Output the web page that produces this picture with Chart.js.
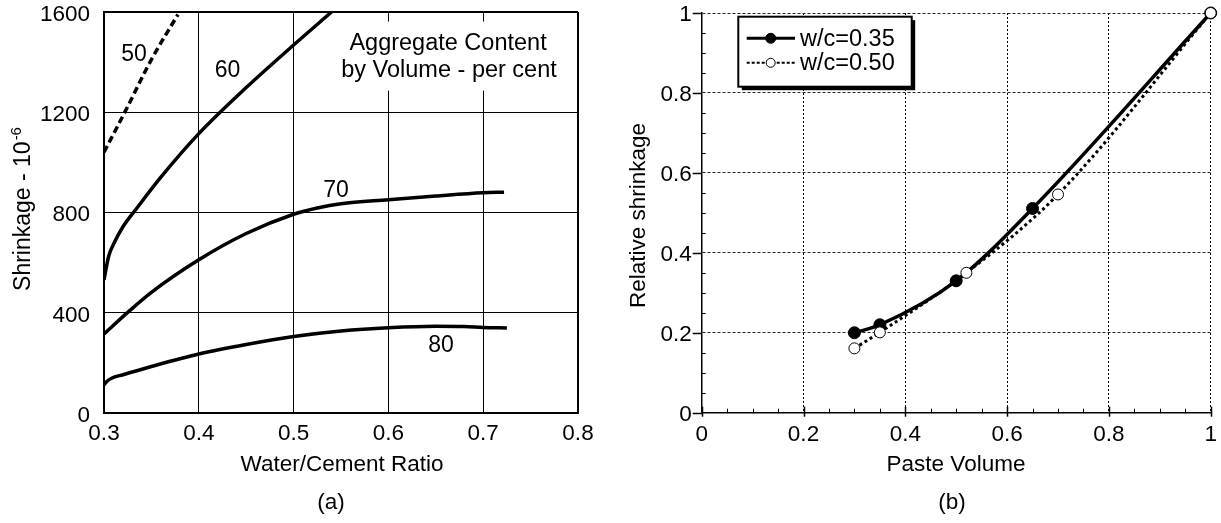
<!DOCTYPE html>
<html>
<head>
<meta charset="utf-8">
<title>Shrinkage of concrete</title>
<script src="https://cdn.jsdelivr.net/npm/chart.js@4.4.0/dist/chart.umd.min.js"></script>
<style>
  html, body { margin: 0; padding: 0; background: #fff; }
  #wrap { position: relative; width: 1221px; height: 523px; overflow: hidden; background: #fff; }
  canvas { position: absolute; top: 0; }
  #chartA { left: 0; }
  #chartB { left: 600px; }
</style>
</head>
<body>
<div id="wrap">
  <canvas id="chartA" width="600" height="523"></canvas>
  <canvas id="chartB" width="621" height="523"></canvas>
</div>
<script>
// ---------- (a) shrinkage vs water/cement ratio, one curve per aggregate content ----------
const aggContents = ['50', '60', '70', '80'];

const wc50 = [0.300, 0.322, 0.350, 0.378];
const shr50 = [1040, 1200, 1410, 1590];

const wc60 = [0.300, 0.305, 0.310, 0.320, 0.335, 0.360, 0.400, 0.450, 0.500, 0.540];
const shr60 = [530, 625, 672, 742, 818, 940, 1114, 1298, 1468, 1600];

const wc70 = [0.300, 0.325, 0.350, 0.400, 0.450, 0.500, 0.525, 0.550, 0.600, 0.650, 0.700, 0.722];
const shr70 = [314, 400, 480, 610, 715, 792, 817, 834, 850, 865, 878, 880];

const wc80 = [0.300, 0.303, 0.308, 0.320, 0.350, 0.400, 0.450, 0.500, 0.550, 0.600, 0.650, 0.680, 0.700, 0.725];
const shr80 = [110, 124, 137, 151, 184, 234, 272, 304, 326, 339, 345, 344, 340, 338];

const xTicksA = [0.3, 0.4, 0.5, 0.6, 0.7, 0.8];
const xLabelsA = ['0.3', '0.4', '0.5', '0.6', '0.7', '0.8'];
const yTicksA = [0, 400, 800, 1200, 1600];
const yLabelsA = ['0', '400', '800', '1200', '1600'];

// ---------- (b) relative shrinkage vs paste volume ----------
const seriesNamesB = ['w/c=0.35', 'w/c=0.50'];
const paste035 = [0.30, 0.35, 0.50, 0.65, 1.00];
const rel035 = [0.200, 0.220, 0.330, 0.511, 1.000];
const paste050 = [0.30, 0.35, 0.52, 0.70, 1.00];
const rel050 = [0.161, 0.201, 0.350, 0.546, 1.000];

const xTicksB = [0, 0.2, 0.4, 0.6, 0.8, 1];
const xLabelsB = ['0', '0.2', '0.4', '0.6', '0.8', '1'];
const yTicksB = [0, 0.2, 0.4, 0.6, 0.8, 1];
const yLabelsB = ['0', '0.2', '0.4', '0.6', '0.8', '1'];
const minorStepB = 0.05;

// ---------- shared styling ----------
const FONT = "'Liberation Sans', Arial, Helvetica, sans-serif";
Chart.defaults.font.family = FONT;
Chart.defaults.color = '#000';
const TICK_FONT = { size: 22.5, lineHeight: 1 };
const CLEAR = 'rgba(0,0,0,0)';

const toPoints = (xs, ys) => xs.map((x, i) => ({ x, y: ys[i] }));
const setTicks = (vals) => (scale) => { scale.ticks = vals.map(v => ({ value: v })); };

// where the curve labels of (a) sit, in data units
const curveLabelAt = [
  { x: 0.3316, y: 1430 },
  { x: 0.4303, y: 1366 },
  { x: 0.5447, y: 888 },
  { x: 0.6555, y: 268 }
];

function curve(label, xs, ys, dash) {
  return {
    label,
    data: toPoints(xs, ys),
    borderColor: '#000',
    borderWidth: 3.5,
    borderDash: dash || [],
    pointRadius: 0,
    pointHoverRadius: 0,
    cubicInterpolationMode: 'monotone',
    fill: false
  };
}

// key text, curve numbers and axis titles of (a)
const annotateA = {
  id: 'annotateA',
  beforeDatasetsDraw(chart) {
    const { ctx, scales: { x, y } } = chart;
    ctx.save();
    const x0 = x.getPixelForValue(0.547), x1 = x.getPixelForValue(0.781);
    const y0 = y.getPixelForValue(1562), y1 = y.getPixelForValue(1286);
    ctx.fillStyle = '#fff';
    ctx.fillRect(x0, y0, x1 - x0, y1 - y0);
    ctx.fillStyle = '#000';
    ctx.font = '23.5px ' + FONT;
    ctx.textAlign = 'center';
    ctx.textBaseline = 'alphabetic';
    const cx = x.getPixelForValue(0.6629);
    ctx.fillText('Aggregate Content', cx, y.getPixelForValue(1450));
    ctx.fillText('by Volume - per cent', cx + 1, y.getPixelForValue(1342));
    ctx.restore();
  },
  afterDatasetsDraw(chart) {
    const { ctx, scales: { x, y } } = chart;
    ctx.save();
    ctx.fillStyle = '#000';
    ctx.font = '23px ' + FONT;
    ctx.textAlign = 'center';
    ctx.textBaseline = 'middle';
    aggContents.forEach((t, i) => {
      ctx.fillText(t, x.getPixelForValue(curveLabelAt[i].x), y.getPixelForValue(curveLabelAt[i].y));
    });
    ctx.restore();
  },
  afterDraw(chart) {
    const { ctx } = chart;
    ctx.save();
    ctx.fillStyle = '#000';
    ctx.textAlign = 'center';
    ctx.textBaseline = 'middle';
    ctx.font = '22.5px ' + FONT;
    ctx.fillText('Water/Cement Ratio', 342, 465);
    ctx.fillText('(a)', 331, 503);
    // rotated y title with superscript exponent
    const main = 'Shrinkage - 10', sup = '-6';
    ctx.font = '23px ' + FONT;
    const w1 = ctx.measureText(main).width;
    ctx.font = '15px ' + FONT;
    const w2 = ctx.measureText(sup).width;
    ctx.translate(24, 209 + (w1 + w2 + 1) / 2);
    ctx.rotate(-Math.PI / 2);
    ctx.textAlign = 'left';
    ctx.font = '23px ' + FONT;
    ctx.fillText(main, 0, 0);
    ctx.font = '15px ' + FONT;
    ctx.fillText(sup, w1 + 1, -7);
    ctx.restore();
  }
};

new Chart(document.getElementById('chartA'), {
  type: 'line',
  data: {
    datasets: [
      curve(aggContents[0], wc50, shr50, [7, 4]),
      curve(aggContents[1], wc60, shr60),
      curve(aggContents[2], wc70, shr70),
      curve(aggContents[3], wc80, shr80)
    ]
  },
  options: {
    responsive: false,
    animation: false,
    devicePixelRatio: 1,
    events: [],
    layout: { autoPadding: false, padding: { left: 0, top: 12, right: 22, bottom: 0 } },
    plugins: { legend: { display: false }, tooltip: { enabled: false } },
    scales: {
      x: {
        type: 'linear', min: 0.3, max: 0.8,
        afterBuildTicks: setTicks(xTicksA),
        afterFit: (s) => { s.height = 110.5; },
        grid: {
          color: '#000',
          lineWidth: (c) => (c.tick && c.tick.value === 0.8 ? 2 : 1),
          drawTicks: true, tickLength: 10.5, tickColor: CLEAR
        },
        border: { display: true, color: '#000', width: 2 },
        ticks: {
          padding: 0, font: TICK_FONT, color: '#000', maxRotation: 0, autoSkip: false,
          callback: (v, i) => xLabelsA[i]
        }
      },
      y: {
        type: 'linear', min: 0, max: 1600,
        afterBuildTicks: setTicks(yTicksA),
        afterFit: (s) => { s.width = 104; },
        grid: {
          color: '#000',
          lineWidth: (c) => (c.tick && c.tick.value === 1600 ? 2 : 1),
          drawTicks: true, tickLength: 14, tickColor: CLEAR
        },
        border: { display: true, color: '#000', width: 2 },
        ticks: {
          padding: 0, labelOffset: 3, font: TICK_FONT, color: '#000', autoSkip: false,
          callback: (v, i) => yLabelsA[i]
        }
      }
    }
  },
  plugins: [annotateA]
});

// ---------- (b) ----------
const decorateB = {
  id: 'decorateB',
  afterDatasetsDraw(chart) {
    const { ctx, chartArea: a, scales: { x, y } } = chart;
    ctx.save();
    ctx.strokeStyle = '#000';
    ctx.lineWidth = 1;
    // minor tick marks pointing into the plot
    for (let v = minorStepB; v < 1 - 1e-9; v += minorStepB) {
      const isMajor = xTicksB.some(t => Math.abs(t - v) < 1e-6);
      if (isMajor) continue;
      const px = Math.round(x.getPixelForValue(v)) + 0.5;
      ctx.beginPath(); ctx.moveTo(px, a.bottom); ctx.lineTo(px, a.bottom - 4); ctx.stroke();
      const py = Math.round(y.getPixelForValue(v)) + 0.5;
      ctx.beginPath(); ctx.moveTo(a.left, py); ctx.lineTo(a.left + 4, py); ctx.stroke();
    }
    // major tick marks pointing out of the plot
    ctx.lineWidth = 1.5;
    xTicksB.forEach(v => {
      const px = Math.round(x.getPixelForValue(v)) + 0.5;
      ctx.beginPath(); ctx.moveTo(px, a.bottom - 6); ctx.lineTo(px, a.bottom + 4); ctx.stroke();
    });
    yTicksB.forEach(v => {
      const py = Math.round(y.getPixelForValue(v)) + 0.5;
      ctx.beginPath(); ctx.moveTo(a.left - 9, py); ctx.lineTo(a.left, py); ctx.stroke();
    });
    ctx.restore();
  },
  afterDraw(chart) {
    const { ctx, chartArea: a } = chart;
    ctx.save();
    // legend panel with drop shadow
    const bx = a.left + 36.6, by = a.top + 3.7, bw = 173.4, bh = 70;
    ctx.fillStyle = '#000';
    ctx.fillRect(bx + 3.5, by + 3.5, bw, bh);
    ctx.fillStyle = '#fff';
    ctx.fillRect(bx, by, bw, bh);
    ctx.lineWidth = 2;
    ctx.strokeStyle = '#000';
    ctx.strokeRect(bx, by, bw, bh);
    chart.data.datasets.forEach((ds, i) => {
      const cy = by + 21.6 + i * 24.5;
      ctx.strokeStyle = '#000';
      ctx.lineWidth = i === 0 ? 3 : 2;
      ctx.setLineDash(i === 0 ? [] : [3, 2]);
      ctx.beginPath(); ctx.moveTo(bx + 8.4, cy); ctx.lineTo(bx + 56.7, cy); ctx.stroke();
      ctx.setLineDash([]);
      ctx.beginPath();
      ctx.arc(bx + 32.4, cy, ds.pointRadius - 1, 0, Math.PI * 2);
      ctx.fillStyle = ds.pointBackgroundColor;
      ctx.fill();
      ctx.lineWidth = 1;
      ctx.stroke();
      ctx.fillStyle = '#000';
      ctx.font = '23.5px ' + FONT;
      ctx.textAlign = 'left';
      ctx.textBaseline = 'middle';
      ctx.fillText(ds.label, bx + 61.7, cy + 1);
    });
    // axis titles and caption
    ctx.fillStyle = '#000';
    ctx.textAlign = 'center';
    ctx.textBaseline = 'middle';
    ctx.font = '22.5px ' + FONT;
    ctx.fillText('Paste Volume', 356, 465);
    ctx.fillText('(b)', 352, 503);
    ctx.translate(38.5, 215.5);
    ctx.rotate(-Math.PI / 2);
    ctx.fillText('Relative shrinkage', 0, 0);
    ctx.restore();
  }
};

new Chart(document.getElementById('chartB'), {
  type: 'line',
  data: {
    datasets: [
      {
        label: seriesNamesB[0],
        data: toPoints(paste035, rel035),
        borderColor: '#000', borderWidth: 3.5,
        pointRadius: 6, pointHoverRadius: 6,
        pointBackgroundColor: '#000', pointBorderColor: '#000', pointBorderWidth: 1,
        cubicInterpolationMode: 'monotone',
        clip: false, order: 2
      },
      {
        label: seriesNamesB[1],
        data: toPoints(paste050, rel050),
        borderColor: '#000', borderWidth: 3, borderDash: [3, 3],
        pointRadius: 5.5, pointHoverRadius: 5.5,
        pointBackgroundColor: '#fff', pointBorderColor: '#000', pointBorderWidth: 1,
        cubicInterpolationMode: 'monotone',
        clip: false, order: 1
      }
    ]
  },
  options: {
    responsive: false,
    animation: false,
    devicePixelRatio: 1,
    events: [],
    layout: { autoPadding: false, padding: { left: 0, top: 13, right: 10.3, bottom: 0 } },
    plugins: { legend: { display: false }, tooltip: { enabled: false } },
    scales: {
      x: {
        type: 'linear', min: 0, max: 1,
        afterBuildTicks: setTicks(xTicksB),
        afterFit: (s) => { s.height = 110.3; },
        grid: {
          color: '#000', lineWidth: 1,
          drawTicks: true, tickLength: 10.5, tickColor: CLEAR
        },
        border: { display: true, color: '#000', width: 1.5, dash: [2, 2] },
        ticks: {
          padding: 0, font: TICK_FONT, color: '#000', maxRotation: 0, autoSkip: false,
          callback: (v, i) => xLabelsB[i]
        }
      },
      y: {
        type: 'linear', min: 0, max: 1,
        afterBuildTicks: setTicks(yTicksB),
        afterFit: (s) => { s.width = 101.7; },
        grid: {
          color: '#222', lineWidth: 1,
          drawTicks: true, tickLength: 10, tickColor: CLEAR
        },
        border: { display: true, color: '#000', width: 1.5, dash: [3, 2] },
        ticks: {
          padding: 0, labelOffset: 2, font: TICK_FONT, color: '#000', autoSkip: false,
          callback: (v, i) => yLabelsB[i]
        }
      }
    }
  },
  plugins: [decorateB]
});
</script>
</body>
</html>
